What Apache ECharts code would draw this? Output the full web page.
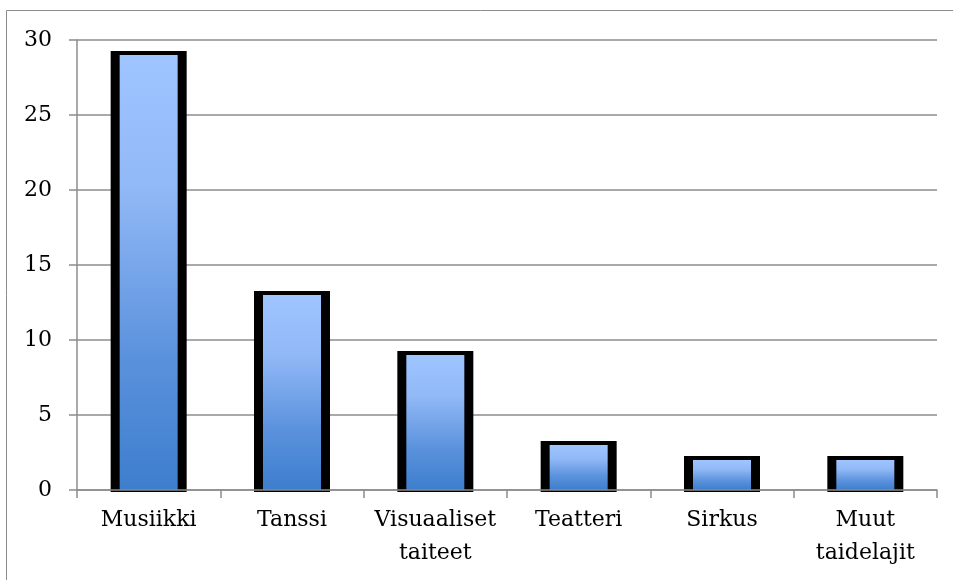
<!DOCTYPE html>
<html>
<head>
<meta charset="utf-8">
<script src="https://cdn.jsdelivr.net/npm/echarts@6/dist/echarts.min.js"></script>
<style>
  html, body { margin: 0; padding: 0; background: #fff; }
  #main { width: 953px; height: 580px; }
</style>
</head>
<body>
<div id="main"></div>
<script>
  // data
  var categories = ['Musiikki', 'Tanssi', 'Visuaaliset taiteet', 'Teatteri', 'Sirkus', 'Muut taidelajit']
  var values = [29, 13, 9, 3, 2, 2]
  var yTicks = [0, 5, 10, 15, 20, 25, 30]

  var font = 'DejaVu Serif'
  var gray = '#8c8c8c'

  var chart = echarts.init(document.getElementById('main'))

  // black frame bar + gradient inner bar, drawn through the axis scales
  function renderBar (params, api) {
    var top = api.coord([api.value(0), api.value(1)])
    var base = api.coord([api.value(0), 0])
    var h = base[1] - top[1]
    return {
      type: 'group',
      children: [
        {
          type: 'rect',
          shape: { x: top[0] - 38, y: top[1] - 4, width: 76, height: h + 6 },
          style: { fill: '#000' }
        },
        {
          type: 'rect',
          shape: { x: top[0] - 29, y: top[1], width: 58, height: h },
          style: {
            fill: new echarts.graphic.LinearGradient(0, 0, 0, 1, [
              { offset: 0, color: '#9ec5ff' },
              { offset: 0.3, color: '#92b9f7' },
              { offset: 0.7, color: '#5a91dc' },
              { offset: 1, color: '#3d7ecd' }
            ])
          }
        }
      ]
    }
  }

  chart.setOption({
    animation: false,
    backgroundColor: '#fff',
    graphic: [{
      type: 'rect',
      shape: { x: 6.5, y: 10.5, width: 1000, height: 700 },
      style: { fill: 'none', stroke: gray, lineWidth: 1 },
      silent: true
    }],
    grid: { left: 77, right: 16, top: 40, bottom: 90 },
    xAxis: {
      type: 'category',
      data: categories,
      z: 5,
      axisLine: { lineStyle: { color: gray, width: 1.5 } },
      axisTick: { show: true, length: 8, lineStyle: { color: gray, width: 1.5 } },
      axisLabel: {
        interval: 0,
        margin: 14,
        color: '#000',
        fontFamily: font,
        fontSize: 22,
        lineHeight: 33,
        formatter: function (v) { return v.replace(' ', '\n') }
      }
    },
    yAxis: {
      type: 'value',
      min: yTicks[0],
      max: yTicks[yTicks.length - 1],
      interval: 5,
      axisLine: { show: true, lineStyle: { color: gray, width: 1.5 } },
      axisTick: { show: true, length: 8, lineStyle: { color: gray, width: 1.5 } },
      splitLine: { lineStyle: { color: gray, width: 1.5 } },
      axisLabel: {
        margin: 25,
        color: '#000',
        fontFamily: font,
        fontSize: 22
      }
    },
    series: [{
      type: 'custom',
      renderItem: renderBar,
      data: values.map(function (v, i) { return [categories[i], v] })
    }]
  })
</script>
</body>
</html>
